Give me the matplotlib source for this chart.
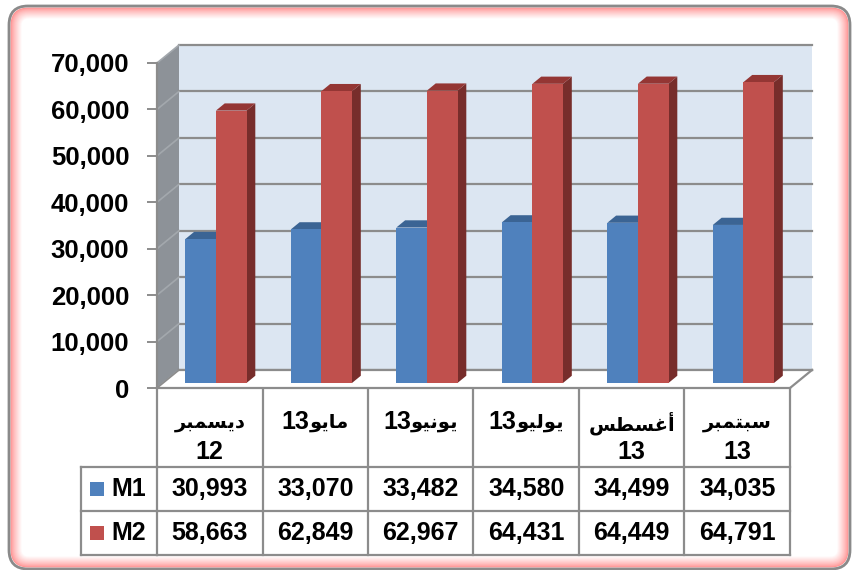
import matplotlib
matplotlib.use("Agg")
import matplotlib.pyplot as plt
from matplotlib.patches import Polygon, FancyBboxPatch, Rectangle
from matplotlib.transforms import blended_transform_factory

# ---- data ----
categories = ["ديسمبر 12", "مايو13", "يونيو13", "يوليو13", "أغسطس 13", "سبتمبر 13"]
series_names = ["M1", "M2"]
m1 = [30993, 33070, 33482, 34580, 34499, 34035]
m2 = [58663, 62849, 62967, 64431, 64449, 64791]
y_ticks = [0, 10000, 20000, 30000, 40000, 50000, 60000, 70000]

# colours (front, top, side)
blue = ("#4f81bd", "#3b6494", "#345a87")
red = ("#c0504d", "#943634", "#772d2b")
grey = "#8c8c8c"

# minimal arabic shaping: isolated, final, initial, medial presentation forms
FORMS = {
    "ا": ("\uFE8D", "\uFE8E", None, None),
    "أ": ("\uFE83", "\uFE84", None, None),
    "ب": ("\uFE8F", "\uFE90", "\uFE91", "\uFE92"),
    "ت": ("\uFE95", "\uFE96", "\uFE97", "\uFE98"),
    "د": ("\uFEA9", "\uFEAA", None, None),
    "ر": ("\uFEAD", "\uFEAE", None, None),
    "س": ("\uFEB1", "\uFEB2", "\uFEB3", "\uFEB4"),
    "ط": ("\uFEC1", "\uFEC2", "\uFEC3", "\uFEC4"),
    "غ": ("\uFECD", "\uFECE", "\uFECF", "\uFED0"),
    "ل": ("\uFEDD", "\uFEDE", "\uFEDF", "\uFEE0"),
    "م": ("\uFEE1", "\uFEE2", "\uFEE3", "\uFEE4"),
    "ن": ("\uFEE5", "\uFEE6", "\uFEE7", "\uFEE8"),
    "و": ("\uFEED", "\uFEEE", None, None),
    "ي": ("\uFEF1", "\uFEF2", "\uFEF3", "\uFEF4"),
}


def shape_word(word):
    out = []
    for i, ch in enumerate(word):
        iso, fin, ini, med = FORMS[ch]
        prev_joins = i > 0 and FORMS[word[i - 1]][2] is not None
        next_joins = ini is not None and i < len(word) - 1
        if prev_joins and next_joins:
            out.append(med)
        elif prev_joins:
            out.append(fin)
        elif next_joins:
            out.append(ini)
        else:
            out.append(iso)
    return "".join(reversed(out))


def split_parts(label):
    # each line -> (digits, shaped arabic); digits sit left of the arabic word
    lines = []
    for part in label.split(" "):
        arabic = "".join(c for c in part if c in FORMS)
        digits = "".join(c for c in part if c not in FORMS)
        lines.append((digits, shape_word(arabic) if arabic else ""))
    return lines


plt.rcParams["font.family"] = ["Liberation Sans", "DejaVu Sans"]
plt.rcParams["font.weight"] = "bold"

W, H = 854, 570
fig = plt.figure(figsize=(W / 100, H / 100), dpi=100)
fig.patch.set_facecolor("white")

# overlay in pixel units for frame and table
ov = fig.add_axes([0, 0, 1, 1], zorder=0)
ov.set_xlim(0, W)
ov.set_ylim(H, 0)
ov.axis("off")

# rounded frame with red glow
x0, x1, yt, yb = 9, 850, 6, 569
steps = 12
for k in range(steps):
    t = (k / (steps - 1)) ** 0.8
    col = (1.0, 0.58 + 0.42 * t, 0.58 + 0.42 * t)
    ov.add_patch(FancyBboxPatch((x0 + 1.5 + k, yt + 1.5 + k), x1 - x0 - 3 - 2 * k, yb - yt - 3 - 2 * k,
                                boxstyle="round,pad=0,rounding_size=%g" % max(18 - k, 4),
                                facecolor=col, edgecolor="none"))
ov.add_patch(FancyBboxPatch((x0, yt), x1 - x0, yb - yt, boxstyle="round,pad=0,rounding_size=19",
                            facecolor="none", edgecolor="#8a8a8a", lw=2))

# main chart axes = front plane
ax = fig.add_axes([157 / W, 182 / H, 633 / W, 325 / H], zorder=1)
ax.patch.set_visible(False)
n = len(categories)
ax.set_xlim(-0.5, n - 0.5)
ax.set_ylim(0, 70000)

DX = 22 / 105.5          # depth offset in category units
DY = 18 / 325 * 70000    # depth offset in value units
xl, xr = -0.5, n - 0.5
top = y_ticks[-1]

# side wall
ax.add_patch(Polygon([(xl, 0), (xl + DX, DY), (xl + DX, top + DY), (xl, top)],
                     closed=True, facecolor="#8d9298", edgecolor="none", zorder=1, clip_on=False))
# back wall
ax.add_patch(Rectangle((xl + DX, DY), xr - xl, top, facecolor="#dce6f2", edgecolor="none",
                       zorder=1, clip_on=False))
for v in y_ticks:
    ax.plot([xl + DX, xr + DX], [v + DY, v + DY], color=grey, lw=1.6, zorder=2, clip_on=False)
    ax.plot([xl, xl + DX], [v, v + DY], color="#a3a8ad", lw=1.2, zorder=2, clip_on=False)
# floor
ax.add_patch(Polygon([(xl, 0), (xr, 0), (xr + DX, DY), (xl + DX, DY)], closed=True,
                     facecolor="white", edgecolor="none", zorder=2, clip_on=False))
ax.plot([xl + DX, xr + DX], [DY, DY], color=grey, lw=1.6, zorder=2, clip_on=False)
ax.plot([xr, xr + DX], [0, DY], color=grey, lw=1.6, zorder=2, clip_on=False)
ax.plot([xl, xl + DX], [0, DY], color=grey, lw=1.2, zorder=2, clip_on=False)

# bars
bw = 0.29
f0, f1 = 0.28, 0.68
for i in range(n):
    for j, (vals, cols) in enumerate([(m1, blue), (m2, red)]):
        v = vals[i]
        left = i - bw + j * bw
        ox0, oy0 = f0 * DX, f0 * DY
        ox1, oy1 = f1 * DX, f1 * DY
        ax.add_patch(Polygon([(left + bw + ox0, oy0), (left + bw + ox1, oy1),
                              (left + bw + ox1, v + oy1), (left + bw + ox0, v + oy0)],
                             closed=True, facecolor=cols[2], edgecolor="none", zorder=3 + j))
        ax.add_patch(Polygon([(left + ox0, v + oy0), (left + bw + ox0, v + oy0),
                              (left + bw + ox1, v + oy1), (left + ox1, v + oy1)],
                             closed=True, facecolor=cols[1], edgecolor="none", zorder=3 + j))
        ax.bar(left + ox0, v, width=bw, bottom=oy0, align="edge", color=cols[0],
               edgecolor="none", zorder=3 + j)

# axes styling
for s in ["top", "right"]:
    ax.spines[s].set_visible(False)
ax.spines["left"].set_color(grey)
ax.spines["left"].set_linewidth(1.6)
ax.spines["bottom"].set_color(grey)
ax.spines["bottom"].set_linewidth(1.6)
ax.spines["left"].set_zorder(6)
ax.spines["bottom"].set_zorder(6)
ax.set_xticks([])
ax.set_yticks(y_ticks)
ax.set_yticklabels([f"{v:,}" for v in y_ticks])
ax.tick_params(axis="y", length=7, width=1.4, color=grey, labelsize=18.5, pad=13)
for lab in ax.get_yticklabels():
    lab.set_fontweight("bold")

# data table below the chart
tr = blended_transform_factory(ax.transData, ov.transData)
row_top, row1, row2, row_bot = 389, 467, 511, 555
for b in range(n + 1):
    ov.plot([b - 0.5, b - 0.5], [row_top, row_bot], color=grey, lw=1.6, transform=tr, zorder=6)
for y in [row1, row2, row_bot]:
    ov.plot([81, 157], [y, y], color=grey, lw=1.6, zorder=6)
    ov.plot([-0.5, n - 0.5], [y, y], color=grey, lw=1.6, transform=tr, zorder=6)
ov.plot([81, 81], [row1, row_bot], color=grey, lw=1.6, zorder=6)

# category labels: digits in Liberation Sans, arabic word in DejaVu Sans, centred together
renderer = fig.canvas.get_renderer()
for i, lab in enumerate(categories):
    cx = ov.transData.inverted().transform(ax.transData.transform((i, 0)))[0]
    for k, (digits, arabic) in enumerate(split_parts(lab)):
        yc = 422 + 30 * k
        td = ov.text(cx, yc, digits, ha="left", va="center", fontsize=18,
                     fontweight="bold", family="Liberation Sans", zorder=7)
        ta = ov.text(cx, yc + 1, arabic, ha="left", va="center", fontsize=14,
                     fontweight="bold", family="DejaVu Sans", zorder=7)
        wd = td.get_window_extent(renderer).width if digits else 0
        wa = ta.get_window_extent(renderer).width if arabic else 0
        start = cx - (wd + wa) / 2
        td.set_x(start)
        ta.set_x(start + wd)

for r, (name, vals, cols, yc) in enumerate([(series_names[0], m1, blue, 489),
                                             (series_names[1], m2, red, 533)]):
    ov.add_patch(Rectangle((90, yc - 7), 14, 14, facecolor=cols[0], edgecolor="none", zorder=7))
    ov.text(111, yc, name, ha="left", va="center", fontsize=18, fontweight="bold", zorder=7)
    for i, v in enumerate(vals):
        ov.text(i, yc, f"{v:,}", transform=tr, ha="center", va="center",
                fontsize=18, fontweight="bold", zorder=7)

fig.savefig("out.png", dpi=100)
